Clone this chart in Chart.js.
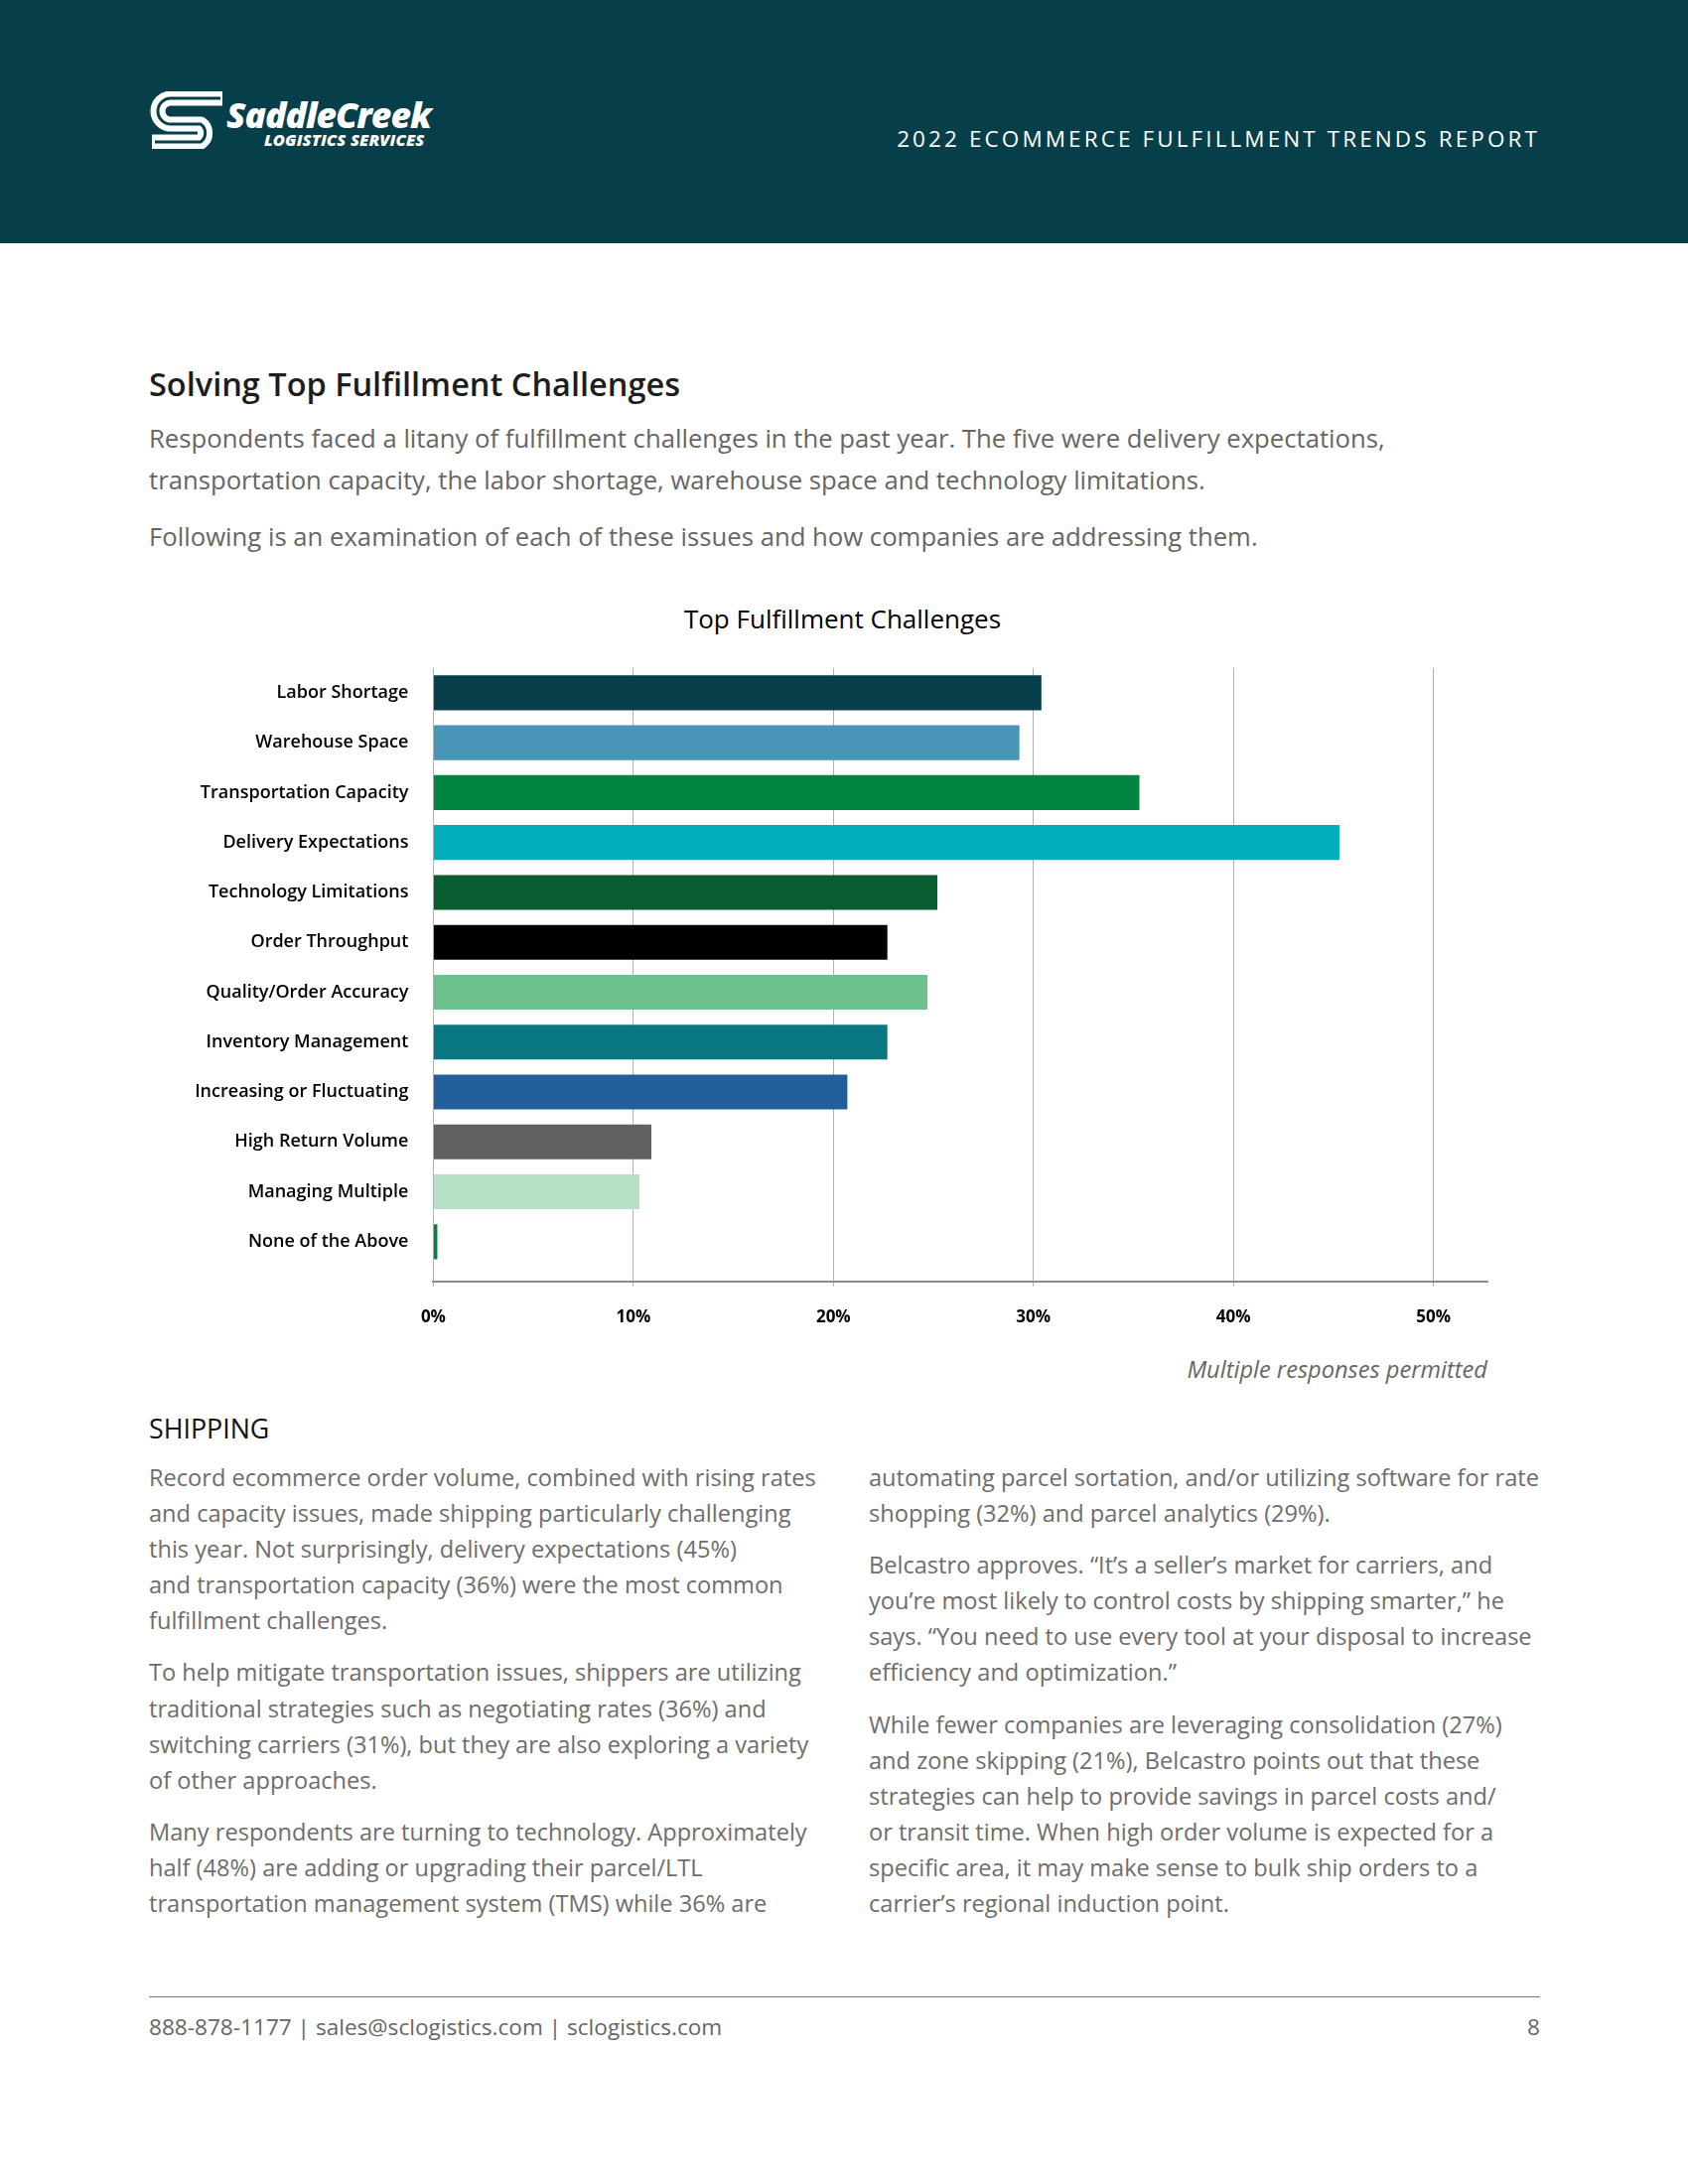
<!DOCTYPE html>
<html>
<head>
<meta charset="utf-8">
<script src="https://cdn.jsdelivr.net/npm/chart.js@4.4.1/dist/chart.umd.min.js"></script>
<style>
  html, body { margin: 0; padding: 0; background: #ffffff; }
  body { width: 1700px; height: 2200px; position: relative; overflow: hidden; font-family: "Open Sans", "Noto Sans", sans-serif; }
  .abs { position: absolute; white-space: nowrap; }
  #header { position: absolute; left: 0; top: 0; width: 1700px; height: 245px; background: #063f4a; }
  #logoText { left: 228px; top: 94px; color: #fff; font-size: 35.5px; font-weight: 800; font-style: italic; letter-spacing: -1px; line-height: 42px; }
  #logoSub { left: 266px; top: 131px; color: #fff; font-size: 16.5px; font-weight: 800; font-style: italic; line-height: 20px; letter-spacing: 0.1px; }
  #reportTitle { right: 149px; top: 123px; color: #fff; font-size: 22.5px; letter-spacing: 3.1px; line-height: 34px; }
  #h1 { left: 150px; top: 365px; font-size: 32.5px; font-weight: 600; color: #1d1d1d; line-height: 44px; }
  .intro { left: 150px; font-size: 25.7px; font-weight: 500; color: #666; line-height: 42px; }
  #chartTitle { left: 0; width: 1697px; text-align: center; top: 605px; font-size: 26px; color: #000; line-height: 36px; }
  #chartBox { position: absolute; left: 150px; top: 637px; width: 1400px; height: 723px; }
  #note { right: 202px; top: 1361px; font-size: 23.6px; font-style: italic; color: #666; line-height: 36px; }
  #shipping { left: 150px; top: 1420px; font-size: 26.8px; color: #111; line-height: 38px; }
  .col { position: absolute; top: 1470px; font-size: 23.6px; color: #6d6d6d; line-height: 36.1px; }
  .col p { margin: 0 0 16px 0; white-space: nowrap; }
  #footLine { position: absolute; left: 150px; top: 2011px; width: 1401px; height: 0; border-top: 1.5px solid #7a7a7a; }
  .foot { top: 2026px; font-size: 22.6px; color: #666; line-height: 32px; }
</style>
</head>
<body>
<div id="header">
  <svg class="abs" style="left:150px;top:92px" width="80" height="58" viewBox="0 0 80 58">
    <path d="M74,7 H22 A13,13 0 0 0 22,33 H52 A11,11 0 0 1 52,51 H3" fill="none" stroke="#ffffff" stroke-width="15" stroke-linejoin="round"/>
    <path d="M72,7 H22 A13,13 0 0 0 22,33 H52 A11,11 0 0 1 52,51 H6" fill="none" stroke="#063f4a" stroke-width="3"/>
  </svg>
  <div id="logoText" class="abs">SaddleCreek</div>
  <div id="logoSub" class="abs">LOGISTICS SERVICES</div>
  <div id="reportTitle" class="abs">2022 ECOMMERCE FULFILLMENT TRENDS REPORT</div>
</div>

<div id="h1" class="abs">Solving Top Fulfillment Challenges</div>
<div class="abs intro" style="top:421px">Respondents faced a litany of fulfillment challenges in the past year. The five were delivery expectations,</div>
<div class="abs intro" style="top:463px">transportation capacity, the labor shortage, warehouse space and technology limitations.</div>
<div class="abs intro" style="top:520px">Following is an examination of each of these issues and how companies are addressing them.</div>

<div id="chartTitle" class="abs">Top Fulfillment Challenges</div>
<div id="chartBox"><canvas id="chart"></canvas></div>
<div id="note" class="abs">Multiple responses permitted</div>

<div id="shipping" class="abs">SHIPPING</div>
<div class="col" style="left:150px">
  <p>Record ecommerce order volume, combined with rising rates<br>and capacity issues, made shipping particularly challenging<br>this year. Not surprisingly, delivery expectations (45%)<br>and transportation capacity (36%) were the most common<br>fulfillment challenges.</p>
  <p>To help mitigate transportation issues, shippers are utilizing<br>traditional strategies such as negotiating rates (36%) and<br>switching carriers (31%), but they are also exploring a variety<br>of other approaches.</p>
  <p>Many respondents are turning to technology. Approximately<br>half (48%) are adding or upgrading their parcel/LTL<br>transportation management system (TMS) while 36% are</p>
</div>
<div class="col" style="left:875px">
  <p>automating parcel sortation, and/or utilizing software for rate<br>shopping (32%) and parcel analytics (29%).</p>
  <p>Belcastro approves. “It’s a seller’s market for carriers, and<br>you’re most likely to control costs by shipping smarter,” he<br>says. “You need to use every tool at your disposal to increase<br>efficiency and optimization.”</p>
  <p>While fewer companies are leveraging consolidation (27%)<br>and zone skipping (21%), Belcastro points out that these<br>strategies can help to provide savings in parcel costs and/<br>or transit time. When high order volume is expected for a<br>specific area, it may make sense to bulk ship orders to a<br>carrier’s regional induction point.</p>
</div>

<div id="footLine"></div>
<div class="abs foot" style="left:150px">888-878-1177 | sales@sclogistics.com | sclogistics.com</div>
<div class="abs foot" style="right:149px">8</div>

<script>
const categories = [
  "Labor Shortage",
  "Warehouse Space",
  "Transportation Capacity",
  "Delivery Expectations",
  "Technology Limitations",
  "Order Throughput",
  "Quality/Order Accuracy",
  "Inventory Management",
  "Increasing or Fluctuating",
  "High Return Volume",
  "Managing Multiple",
  "None of the Above"
];
const values = [30.4, 29.3, 35.3, 45.3, 25.2, 22.7, 24.7, 22.7, 20.7, 10.9, 10.3, 0.2];
const barColors = [
  "#063f4a", "#4895b7", "#008540", "#00adbb", "#075d30", "#000000",
  "#6cc28a", "#087781", "#225e9c", "#606060", "#b5e0c5", "#008540"
];
const xTickValues = [0, 10, 20, 30, 40, 50];

const points = values.map((v, i) => ({ x: v, y: i }));

new Chart(document.getElementById("chart"), {
  type: "bar",
  data: {
    datasets: [{
      data: points,
      backgroundColor: barColors,
      borderWidth: 0,
      barPercentage: 0.7,
      categoryPercentage: 1.0
    }]
  },
  options: {
    indexAxis: "y",
    responsive: true,
    maintainAspectRatio: false,
    animation: false,
    layout: { padding: { left: 0, right: 52, top: 0, bottom: 0 } },
    plugins: { legend: { display: false }, title: { display: false }, tooltip: { enabled: false } },
    scales: {
      y: {
        type: "linear",
        reverse: true,
        offset: false,
        min: -0.5,
        max: 11.8,
        afterBuildTicks: (s) => { s.ticks = categories.map((c, i) => ({ value: i })); },
        afterFit: (s) => { s.width = 286.4; },
        grid: { display: false, drawTicks: false, offset: false },
        border: { display: false },
        ticks: {
          autoSkip: false,
          padding: 25,
          color: "#000",
          font: { family: "Open Sans", size: 18, weight: "600" },
          callback: (v) => categories[v]
        }
      },
      x: {
        type: "linear",
        position: "bottom",
        min: 0,
        max: 52.7,
        afterBuildTicks: (s) => { s.ticks = xTickValues.map(v => ({ value: v })); },
        afterFit: (s) => { s.height = 69; },
        grid: { color: "#b3b3b3", lineWidth: 1, drawTicks: true, tickLength: 5, tickColor: "#b3b3b3" },
        border: { display: true, color: "#8c8c8c", width: 2 },
        ticks: {
          autoSkip: false,
          padding: 21,
          color: "#000",
          font: { family: "Open Sans", size: 17, weight: "700" },
          callback: (v) => v + "%"
        }
      }
    }
  }
});
</script>
</body>
</html>
